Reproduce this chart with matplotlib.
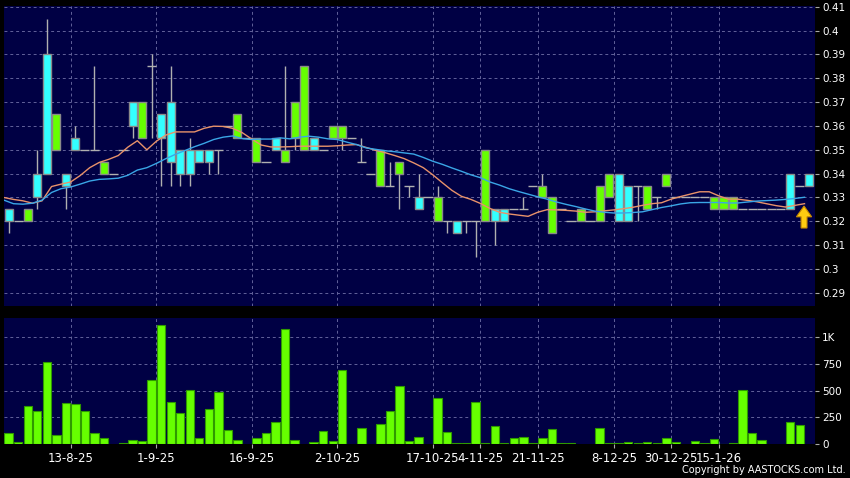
import numpy as np
import matplotlib
matplotlib.use("Agg")
import matplotlib.pyplot as plt

# daily OHLC, oldest first (one entry per trading bar)
opens = [0.320, 0.320, 0.325, 0.330, 0.340, 0.365, 0.335, 0.350, 0.350, 0.350,
         0.345, 0.340, 0.350, 0.360, 0.370, 0.385, 0.355, 0.345, 0.340, 0.340,
         0.345, 0.345, 0.350, 0.360, 0.365, 0.355, 0.355, 0.345, 0.350, 0.350,
         0.370, 0.385, 0.350, 0.350, 0.360, 0.360, 0.355, 0.345, 0.340, 0.350,
         0.335, 0.345, 0.335, 0.325, 0.330, 0.330, 0.320, 0.315, 0.320, 0.320,
         0.350, 0.320, 0.320, 0.325, 0.325, 0.335, 0.335, 0.330, 0.325, 0.320,
         0.325, 0.320, 0.335, 0.340, 0.320, 0.320, 0.335, 0.335, 0.330, 0.340,
         0.330, 0.330, 0.330, 0.330, 0.330, 0.330, 0.330, 0.325, 0.325, 0.325,
         0.325, 0.325, 0.325, 0.335, 0.335]
highs = [0.325, 0.320, 0.325, 0.350, 0.405, 0.365, 0.340, 0.360, 0.350, 0.385,
         0.345, 0.340, 0.350, 0.370, 0.370, 0.390, 0.365, 0.385, 0.350, 0.355,
         0.350, 0.350, 0.350, 0.360, 0.365, 0.355, 0.355, 0.345, 0.355, 0.385,
         0.370, 0.385, 0.355, 0.350, 0.360, 0.360, 0.355, 0.355, 0.340, 0.350,
         0.345, 0.345, 0.335, 0.340, 0.330, 0.335, 0.320, 0.320, 0.320, 0.320,
         0.350, 0.325, 0.325, 0.325, 0.330, 0.335, 0.340, 0.330, 0.325, 0.320,
         0.325, 0.320, 0.335, 0.340, 0.340, 0.335, 0.335, 0.335, 0.330, 0.340,
         0.330, 0.330, 0.330, 0.330, 0.330, 0.330, 0.330, 0.325, 0.325, 0.325,
         0.325, 0.325, 0.340, 0.335, 0.340]
lows = [0.315, 0.320, 0.320, 0.325, 0.340, 0.350, 0.325, 0.350, 0.350, 0.350,
        0.340, 0.340, 0.350, 0.355, 0.355, 0.355, 0.335, 0.335, 0.335, 0.335,
        0.345, 0.340, 0.340, 0.360, 0.355, 0.355, 0.345, 0.345, 0.350, 0.345,
        0.350, 0.350, 0.350, 0.350, 0.355, 0.350, 0.355, 0.345, 0.340, 0.335,
        0.335, 0.325, 0.330, 0.325, 0.330, 0.320, 0.315, 0.315, 0.315, 0.305,
        0.320, 0.310, 0.320, 0.325, 0.325, 0.335, 0.330, 0.315, 0.325, 0.320,
        0.320, 0.320, 0.320, 0.330, 0.320, 0.320, 0.320, 0.325, 0.325, 0.335,
        0.330, 0.330, 0.330, 0.330, 0.325, 0.325, 0.325, 0.325, 0.325, 0.325,
        0.325, 0.325, 0.325, 0.335, 0.335]
closes = [0.325, 0.320, 0.320, 0.340, 0.390, 0.350, 0.340, 0.355, 0.350, 0.350,
          0.340, 0.340, 0.350, 0.370, 0.355, 0.385, 0.365, 0.370, 0.350, 0.350,
          0.350, 0.350, 0.350, 0.360, 0.355, 0.355, 0.345, 0.345, 0.355, 0.345,
          0.355, 0.350, 0.355, 0.350, 0.355, 0.355, 0.355, 0.345, 0.340, 0.335,
          0.335, 0.340, 0.335, 0.330, 0.330, 0.320, 0.320, 0.320, 0.320, 0.320,
          0.320, 0.325, 0.325, 0.325, 0.325, 0.335, 0.330, 0.315, 0.325, 0.320,
          0.320, 0.320, 0.320, 0.330, 0.340, 0.335, 0.335, 0.325, 0.330, 0.335,
          0.330, 0.330, 0.330, 0.330, 0.325, 0.325, 0.325, 0.325, 0.325, 0.325,
          0.325, 0.325, 0.340, 0.335, 0.340]
# volume in thousand shares
volumes = [100, 15, 352, 314, 770, 88, 387, 371, 308, 100,
           55, 0, 12, 40, 25, 604, 1116, 390, 289, 503,
           59, 324, 490, 135, 38, 0, 59, 107, 204, 1081,
           38, 0, 15, 125, 31, 695, 0, 150, 0, 188,
           314, 544, 31, 69, 0, 427, 112, 12, 12, 393,
           8, 170, 5, 60, 68, 5, 52, 145, 5, 10,
           0, 0, 150, 8, 10, 22, 6, 20, 6, 60,
           18, 0, 30, 8, 48, 3, 12, 503, 107, 40,
           0, 0, 210, 179, 0]
# moving averages as drawn (one value per bar, vertex sits on the bar's left edge)
ma_short = [0.3300, 0.3292, 0.3286, 0.3276, 0.3286, 0.3346, 0.3356, 0.3365, 0.3392, 0.3425,
            0.3447, 0.3460, 0.3476, 0.3511, 0.3538, 0.3500, 0.3536, 0.3562, 0.3575, 0.3575,
            0.3575, 0.3590, 0.3599, 0.3598, 0.3590, 0.3572, 0.3545, 0.3520, 0.3512, 0.3512,
            0.3513, 0.3515, 0.3515, 0.3515, 0.3515, 0.3517, 0.3520, 0.3522, 0.3510, 0.3498,
            0.3488, 0.3476, 0.3463, 0.3445, 0.3425, 0.3395, 0.3362, 0.3330, 0.3305, 0.3292,
            0.3275, 0.3254, 0.3238, 0.3231, 0.3226, 0.3221, 0.3238, 0.3249, 0.3248, 0.3246,
            0.3243, 0.3238, 0.3240, 0.3244, 0.3248, 0.3253, 0.3259, 0.3267, 0.3274, 0.3278,
            0.3293, 0.3304, 0.3314, 0.3324, 0.3324, 0.3307, 0.3293, 0.3293, 0.3288, 0.3282,
            0.3274, 0.3266, 0.3260, 0.3267, 0.3274]
ma_long = [0.3289, 0.3274, 0.3272, 0.3276, 0.3289, 0.3321, 0.3337, 0.3344, 0.3356, 0.3369,
           0.3376, 0.3378, 0.3381, 0.3393, 0.3415, 0.3425, 0.3443, 0.3463, 0.3481, 0.3497,
           0.3513, 0.3527, 0.3543, 0.3553, 0.3558, 0.3547, 0.3543, 0.3545, 0.3545, 0.3550,
           0.3546, 0.3553, 0.3557, 0.3553, 0.3546, 0.3543, 0.3532, 0.3522, 0.3508, 0.3502,
           0.3496, 0.3492, 0.3487, 0.3482, 0.3468, 0.3452, 0.3439, 0.3424, 0.3410, 0.3395,
           0.3383, 0.3365, 0.3352, 0.3337, 0.3325, 0.3314, 0.3303, 0.3293, 0.3281, 0.3271,
           0.3262, 0.3252, 0.3243, 0.3238, 0.3235, 0.3235, 0.3237, 0.3240, 0.3249, 0.3258,
           0.3265, 0.3273, 0.3278, 0.3279, 0.3279, 0.3279, 0.3277, 0.3277, 0.3281, 0.3285,
           0.3287, 0.3289, 0.3292, 0.3296, 0.3301]

# first bar of each labelled date
date_bars = [7, 16, 26, 35, 45, 50, 56, 64, 70, 75]
date_labels = ["13-8-25", "1-9-25", "16-9-25", "2-10-25", "17-10-25",
               "4-11-25", "21-11-25", "8-12-25", "30-12-25", "15-1-26"]

price_ticks = [0.29, 0.30, 0.31, 0.32, 0.33, 0.34, 0.35, 0.36, 0.37, 0.38, 0.39, 0.40, 0.41]
vol_ticks = [0, 250, 500, 750, 1000]
vol_tick_labels = ["0", "250", "500", "750", "1K"]

BG = "#000000"
PANEL = "#000044"
GRID = "#62629a"
UP = "#33ffff"
DOWN = "#66ff00"
EDGE = "#8a8a8a"
WICK = "#b0b0b0"

o = np.array(opens); h = np.array(highs); l = np.array(lows); c = np.array(closes)
n = len(o)
x = np.arange(n)

fig = plt.figure(figsize=(8.5, 4.78), dpi=100, facecolor=BG)
ax = fig.add_axes([4 / 850, 1 - 306 / 478, 811 / 850, 300 / 478])
axv = fig.add_axes([4 / 850, 1 - 444 / 478, 811 / 850, 126 / 478], sharex=ax)

grid_x = np.array(date_bars) - 0.5
for a in (ax, axv):
    a.set_facecolor(PANEL)
    for s in a.spines.values():
        s.set_visible(False)
    a.set_xticks(grid_x)
    a.grid(True, color=GRID, linewidth=0.7, linestyle=(0, (3, 3)))
    a.set_axisbelow(True)
    a.yaxis.tick_right()
    a.tick_params(axis="y", colors="#aaaaaa", labelcolor="white", length=3, pad=2, labelsize=7.5)

# --- candles ---
wick = h > l
ax.vlines(x[wick], l[wick], h[wick], color=WICK, linewidth=1, zorder=2)
body = o != c
up = c > o
ax.bar(x[body], np.abs(c - o)[body], bottom=np.minimum(o, c)[body], width=0.84,
       color=np.where(up, UP, DOWN)[body], edgecolor=EDGE, linewidth=1, zorder=3)
flat = ~body
ax.hlines(o[flat], x[flat] - 0.48, x[flat] + 0.48, color=WICK, linewidth=1, zorder=3)

# --- moving averages ---
ax.plot(x - 0.5, ma_short, color="#e8926a", linewidth=1, zorder=4)
ax.plot(x - 0.5, ma_long, color="#3aa6e6", linewidth=1, zorder=4)

# marker arrow under the latest average
tip = ma_short[-1] - 0.001
ax.arrow(x[-1] - 0.55, tip - 0.0092, 0, 0.0092, width=0.62, head_width=1.6,
         head_length=0.0045, length_includes_head=True,
         facecolor="#ffcc11", edgecolor="#c88a00", linewidth=0.8, zorder=5)

ax.set_ylim(0.2845, 0.4103)
ax.set_yticks(price_ticks)
ax.set_yticklabels([f"{v:g}" for v in price_ticks])
ax.tick_params(axis="x", length=0, labelbottom=False)
ax.set_xlim(-0.49, 84.6)

# --- volume ---
v = np.array(volumes, dtype=float)
has = v > 0
axv.bar(x[has], v[has], width=0.88, color=DOWN, edgecolor="#2f9a00", linewidth=0.8, zorder=3)
axv.set_ylim(0, 1182)
axv.set_yticks(vol_ticks)
axv.set_yticklabels(vol_tick_labels)
axv.set_xticklabels(date_labels)
axv.tick_params(axis="x", colors="#aaaaaa", labelcolor="white", length=3, pad=3, labelsize=8.5)

fig.text(846 / 850, 1 - 470 / 478, "Copyright by AASTOCKS.com Ltd.", color="white",
         fontsize=7, ha="right", va="center")

fig.savefig("out.png", dpi=100, facecolor=BG)
